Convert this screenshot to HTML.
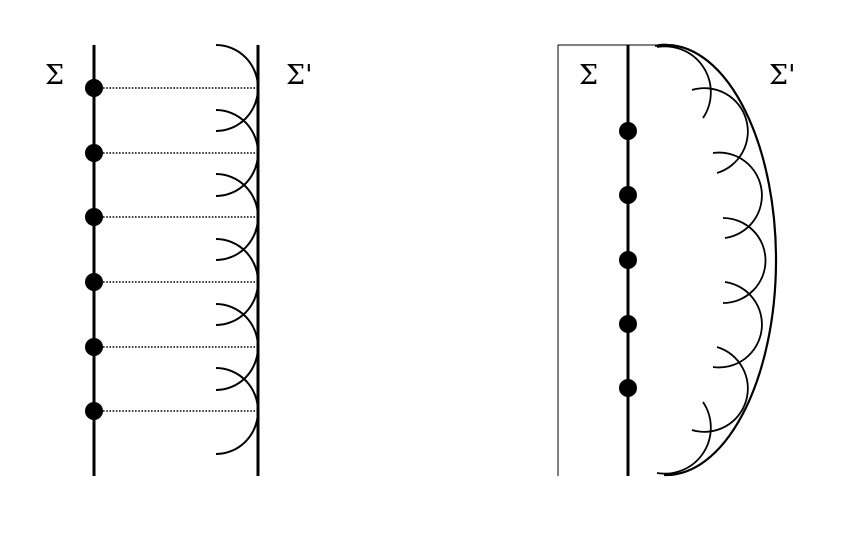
<!DOCTYPE html>
<html><head><meta charset="utf-8"><style>
html,body{margin:0;padding:0;background:#fff;}
svg{display:block}
text{font-family:"DejaVu Serif","Liberation Serif",serif;font-size:27px;fill:#000}
</style></head><body>
<svg width="841" height="535" viewBox="0 0 841 535" xmlns="http://www.w3.org/2000/svg">
<g stroke="#000" fill="none">
 <line x1="94" y1="45" x2="94" y2="476" stroke-width="3"/>
 <line x1="258" y1="45" x2="258" y2="476" stroke-width="3"/>
 <g stroke-width="1.6" stroke-dasharray="1.6 1.6">
  <line x1="103" y1="88" x2="256" y2="88"/>
  <line x1="103" y1="153" x2="256" y2="153"/>
  <line x1="103" y1="217" x2="256" y2="217"/>
  <line x1="103" y1="282" x2="256" y2="282"/>
  <line x1="103" y1="347" x2="256" y2="347"/>
  <line x1="103" y1="411" x2="256" y2="411"/>
 </g>
 <g stroke-width="2">
  <path d="M216 45 A42 43 0 0 1 216 131"/>
  <path d="M216 110 A42 43 0 0 1 216 196"/>
  <path d="M216 174 A42 43 0 0 1 216 260"/>
  <path d="M216 239 A42 43 0 0 1 216 325"/>
  <path d="M216 304 A42 43 0 0 1 216 390"/>
  <path d="M216 368 A42 43 0 0 1 216 454"/>
 </g>
 <line x1="558" y1="45" x2="558" y2="476" stroke-width="1"/>
 <line x1="558" y1="45" x2="668" y2="45" stroke-width="1"/>
 <line x1="628" y1="45" x2="628" y2="476" stroke-width="3"/>
 <path d="M655 46 Q662 44 668 45 A110 215 0 0 1 664 475" stroke-width="2.2"/>
 <g stroke-width="1.8">
  <path d="M657 47 A46 46 0 0 1 703 118"/>
  <path d="M692 90 A42 42 0 1 1 717 173"/>
  <path d="M713 153 A42 42 0 1 1 725 238"/>
  <path d="M723 218 A42 42 0 1 1 723 303"/>
  <path d="M725 282 A42 42 0 1 1 713 367"/>
  <path d="M717 347 A42 42 0 1 1 692 430"/>
  <path d="M703 402 A46 46 0 0 1 657 473"/>
 </g>
</g>
<g fill="#000">
 <circle cx="94" cy="88" r="9"/><circle cx="94" cy="153" r="9"/><circle cx="94" cy="217" r="9"/>
 <circle cx="94" cy="282" r="9"/><circle cx="94" cy="347" r="9"/><circle cx="94" cy="411" r="9"/>
 <circle cx="628" cy="131" r="9"/><circle cx="628" cy="195" r="9"/><circle cx="628" cy="260" r="9"/>
 <circle cx="628" cy="324" r="9"/><circle cx="628" cy="388" r="9"/>
</g>
<text x="45" y="84">Σ</text>
<text x="286" y="84">Σ'</text>
<text x="579" y="84">Σ</text>
<text x="769" y="84">Σ'</text>
</svg>
</body></html>
